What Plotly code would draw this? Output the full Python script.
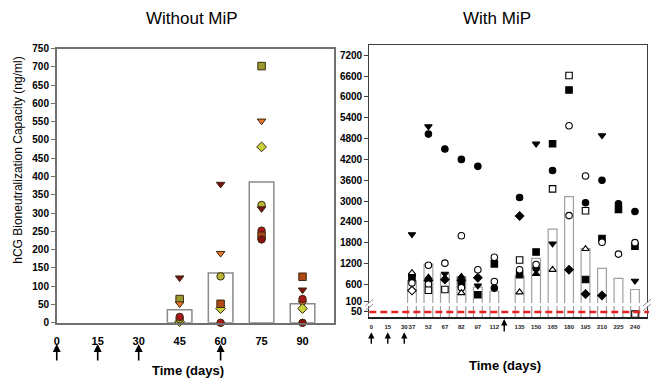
import plotly.graph_objects as go

# ---------------- data: left panel (Without MiP) ----------------
left_days = [45, 60, 75, 90]
left_mean = [36, 136, 385, 52]
left_olive_square = [65, None, 702, None]
left_orange_tri = [52, 190, 552, 54]
left_yg_diamond = [3, 39, 481, 39]
left_olive_circle = [10, 127, 322, None]
left_darkred_tri = [123, 379, 312, 90]
left_red_circle = [16, 0, 252, 65]
left_brown_square = [None, 52, 238, 126]
left_darkred_circle = [None, None, 228, 0]
left_ticks = [0, 15, 30, 45, 60, 75, 90]
left_boost_days = [0, 15, 30, 60]

# ---------------- data: right panel (With MiP) ----------------
right_days = [37, 52, 67, 82, 97, 112, 135, 150, 165, 180, 195, 210, 225, 240]
right_mean = [700, 1180, 900, 820, 520, 400, 840, 1350, 2190, 3130, 1630, 1060, 770, 450]
r_filled_circle = [870, 4930, 4500, 4200, 4000, 490, 3100, 1060, 3880, None, 2950, 3600, 2920, 2700]
r_filled_tri_down = [2040, 5150, 900, None, 560, None, None, 4650, 1770, None, None, 4890, None, 700]
r_filled_square = [790, None, None, 600, 300, 1190, 880, 1530, 4650, 6200, 740, 1920, 2760, 1700]
r_filled_diamond = [None, 710, 740, 720, 790, None, 2570, None, None, 1020, 320, 280, None, None]
r_filled_tri_up = [None, 800, None, 820, None, None, None, 900, None, None, None, None, None, None]
r_hollow_circle = [640, 1150, 1210, 2000, 1020, 1380, 1020, 1170, None, 5170, 3720, 1810, 1470, 1800]
r_hollow_circle2 = [None, 600, None, 500, None, 680, None, None, None, 2580, None, None, None, None]
r_hollow_square = [None, 430, 450, None, None, None, 1300, None, 3350, 6620, 2720, None, None, 45]
r_hollow_tri_up = [930, None, None, 350, None, None, 370, None, 1020, None, 1620, None, None, None]
r_hollow_diamond = [420, None, None, None, None, None, None, None, None, None, None, None, None, None]
right_ticks = [0, 15, 30, 37, 52, 67, 82, 97, 112, 135, 150, 165, 180, 195, 210, 225, 240]
right_yticks_upper = [100, 600, 1200, 1800, 2400, 3000, 3600, 4200, 4800, 5400, 6000, 6600, 7200]
right_yticks_lower = [50]
right_boost_days = [0, 15, 30]
right_late_boost = [121]
detection_limit = 50

W, H = 656, 384
def px(x): return x / W
def py(y): return 1 - y / H

fig = go.Figure()

# ---- left bars
fig.add_trace(go.Bar(x=left_days, y=left_mean, width=9, marker=dict(color="white", line=dict(color="#8a8a8a", width=1.5)),
                     xaxis="x", yaxis="y", showlegend=False, hoverinfo="skip"))

left_styles = [
    (left_olive_square, "square", "#9c9a2e"),
    (left_orange_tri, "triangle-down", "#e8762a"),
    (left_yg_diamond, "diamond", "#c8d23c"),
    (left_olive_circle, "circle", "#b8b838"),
    (left_darkred_tri, "triangle-down", "#7a1212"),
    (left_red_circle, "circle", "#a81818"),
    (left_brown_square, "square", "#b04818"),
    (left_darkred_circle, "circle", "#8a1010"),
]
for vals, sym, col in left_styles:
    fig.add_trace(go.Scatter(x=left_days, y=vals, mode="markers", xaxis="x", yaxis="y", showlegend=False,
                             marker=dict(symbol=sym, size=7.5, color=col, line=dict(color="#3a2a10", width=1)),
                             cliponaxis=False))

# ---- right bars (upper and lower segments)
for xa, ya in (("x2", "y2"), ("x3", "y3")):
    fig.add_trace(go.Bar(x=right_days, y=right_mean, width=8, marker=dict(color="white", line=dict(color="#a0a0a0", width=1.2)),
                         xaxis=xa, yaxis=ya, showlegend=False, hoverinfo="skip"))

right_styles = [
    (r_filled_circle, "circle", "black"),
    (r_filled_tri_down, "triangle-down", "black"),
    (r_filled_square, "square", "black"),
    (r_filled_diamond, "diamond", "black"),
    (r_filled_tri_up, "triangle-up", "black"),
    (r_hollow_circle, "circle", "white"),
    (r_hollow_circle2, "circle", "white"),
    (r_hollow_square, "square", "white"),
    (r_hollow_tri_up, "triangle-up", "white"),
    (r_hollow_diamond, "diamond", "white"),
]
for vals, sym, col in right_styles:
    up = [v if (v is not None and v >= 100) else None for v in vals]
    lo = [v if (v is not None and v < 100) else None for v in vals]
    for ys, xa, ya in ((up, "x2", "y2"), (lo, "x3", "y3")):
        fig.add_trace(go.Scatter(x=right_days, y=ys, mode="markers", xaxis=xa, yaxis=ya, showlegend=False,
                                 marker=dict(symbol=sym, size=6.5, color=col, line=dict(color="black", width=1.1))))

bold10 = dict(family="Liberation Sans, Arial, sans-serif", size=10, color="black", weight="bold")

fig.update_layout(
    width=W, height=H, margin=dict(l=0, r=0, t=0, b=0),
    paper_bgcolor="white", plot_bgcolor="white", barmode="overlay",
    xaxis=dict(domain=[px(54), px(333)], range=[0, 101.7], tickvals=left_ticks, showgrid=False, zeroline=False,
               showline=True, linecolor="#707070", linewidth=1.5, mirror=True, ticks="",
               tickfont=dict(family="Liberation Sans, Arial, sans-serif", size=11, color="black", weight="bold"),
               ticklabelstandoff=7),
    yaxis=dict(domain=[py(326.3), py(44.7)], range=[0, 750], dtick=50, showgrid=False, zeroline=False,
               showline=True, linecolor="#707070", linewidth=1.5, mirror=True, ticks="outside", ticklen=4,
               tickcolor="#707070", tickfont=bold10),
    xaxis2=dict(domain=[px(368), px(647)], range=[-1.8, 251], showgrid=False, zeroline=False, anchor="y2",
                showline=True, side="top", linecolor="#404040", linewidth=1.3, showticklabels=False, ticks=""),
    yaxis2=dict(domain=[py(306), py(41)], range=[60, 7500], tickvals=right_yticks_upper, showgrid=False, zeroline=False,
                anchor="x2", showline=True, mirror=True, linecolor="#404040", linewidth=1.3, ticks="outside",
                ticklen=4, tickcolor="#404040", tickfont=bold10),
    xaxis3=dict(domain=[px(368), px(647)], range=[-1.8, 251], tickvals=right_ticks, showgrid=False, zeroline=False,
                anchor="y3", showline=True, linecolor="#202020", linewidth=1.5, ticks="", tickangle=0,
                tickfont=dict(family="Liberation Sans, Arial, sans-serif", size=6, color="#222", weight="bold"),
                ticklabelstandoff=3),
    yaxis3=dict(domain=[py(320.5), py(309)], range=[38, 64], tickvals=right_yticks_lower, showgrid=False, zeroline=False,
                anchor="x3", showline=True, mirror=True, linecolor="#404040", linewidth=1.3, ticks="outside",
                ticklen=4, tickcolor="#404040", tickfont=bold10),
)

# detection-limit dashed line
fig.add_shape(type="line", xref="paper", yref="y3", x0=px(368), x1=px(649), y0=detection_limit, y1=detection_limit,
              line=dict(color="#e82020", width=2.5, dash="7px,4px"))

# axis break marks
for bx in (368, 647):
    for dy in (0, 5):
        fig.add_shape(type="line", xref="paper", yref="paper", x0=px(bx - 4), x1=px(bx + 4),
                      y0=py(309 + dy), y1=py(302 + dy), line=dict(color="#909090", width=1))

title_font = dict(family="Liberation Sans, Arial, sans-serif", size=17, color="black")
annotations = [
    dict(text="Without MiP", x=px(190), y=py(14), font=title_font),
    dict(text="With MiP", x=px(496), y=py(14), font=title_font),
    dict(text="hCG Bioneutralization Capacity (ng/ml)", x=px(15), y=py(159), textangle=-90,
         font=dict(family="Liberation Sans, Arial, sans-serif", size=12, color="black")),
    dict(text="Time (days)", x=px(186), y=py(375), font=dict(family="Liberation Sans, Arial, sans-serif", size=13, color="black", weight="bold")),
    dict(text="Time (days)", x=px(504), y=py(370), font=dict(family="Liberation Sans, Arial, sans-serif", size=13, color="black", weight="bold")),
]
for a in annotations:
    a.update(xref="paper", yref="paper", showarrow=False, xanchor="center", yanchor="middle")
    fig.add_annotation(**a)

for d in left_boost_days:
    fig.add_annotation(x=d, y=py(348), xref="x", yref="paper", text="", showarrow=True, ax=0, ay=18,
                       arrowhead=2, arrowsize=1, arrowwidth=1.6, arrowcolor="black")
for d in right_boost_days:
    fig.add_annotation(x=d, y=py(336), xref="x3", yref="paper", text="", showarrow=True, ax=0, ay=13,
                       arrowhead=2, arrowsize=0.9, arrowwidth=1.4, arrowcolor="black")
for d in right_late_boost:
    fig.add_annotation(x=d, y=py(322.5), xref="x3", yref="paper", text="", showarrow=True, ax=0, ay=14,
                       arrowhead=2, arrowsize=0.9, arrowwidth=1.4, arrowcolor="black")

fig.write_html("out.html", config={"displayModeBar": False},
               post_script="document.body.style.margin='0';document.body.style.overflow='hidden';")
